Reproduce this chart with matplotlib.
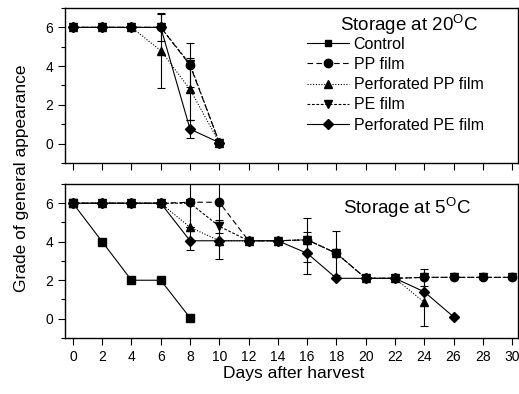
import matplotlib
matplotlib.use("Agg")
import matplotlib.pyplot as plt
from matplotlib.lines import Line2D
from matplotlib.ticker import MultipleLocator

plt.rcParams['font.family'] = ['Liberation Sans', 'DejaVu Sans']

# storage at 20 C
days_20 = [0, 2, 4, 6, 8, 10]
pp_20 = [6, 6, 6, 6, 4.05, 0.05]
pp_20_err = [0, 0, 0, 0, 1.15, 0]
perf_pp_20 = [6, 6, 6, 4.8, 2.8, 0.05]
perf_pp_20_err = [0, 0, 0, 1.95, 1.6, 0]
pe_20 = [6, 6, 6, 6, 4.1, 0.05]
pe_20_err = [0, 0, 0, 0.7, 0, 0]
perf_pe_20 = [6, 6, 6, 6, 0.75, 0.05]
perf_pe_20_err = [0, 0, 0, 0, 0.45, 0]

# storage at 5 C
days_ctrl = [0, 2, 4, 6, 8]
control_5 = [6, 4, 2, 2, 0.05]
days_5 = [0, 2, 4, 6, 8, 10, 12, 14, 16, 18, 20, 22, 24, 26, 28, 30]
pp_5 = [6, 6, 6, 6, 6.05, 6.05, 4.05, 4.05, 4.1, 3.4, 2.1, 2.1, 2.15, 2.15, 2.15, 2.15]
pp_5_err = [0, 0, 0, 0, 1.3, 1.05, 0, 0, 1.15, 1.15, 0, 0, 0.45, 0, 0, 0]
days_ppp = [0, 2, 4, 6, 8, 10, 12, 14, 16, 18, 20, 22, 24]
perf_pp_5 = [6, 6, 6, 6, 4.75, 4.05, 4.05, 4.05, 4.1, 3.4, 2.1, 2.1, 0.85]
perf_pp_5_err = [0, 0, 0, 0, 0, 0, 0, 0, 0, 0, 0, 0, 1.25]
pe_5 = [6, 6, 6, 6, 6, 4.8, 4.05, 4.05, 4.1, 3.4, 2.1, 2.1, 2.15, 2.15, 2.15, 2.15]
pe_5_err = [0, 0, 0, 0, 0, 0.35, 0, 0, 0, 0, 0, 0, 0, 0, 0, 0]
days_ppe = [0, 2, 4, 6, 8, 10, 12, 14, 16, 18, 20, 22, 24, 26]
perf_pe_5 = [6, 6, 6, 6, 4.05, 4.05, 4.05, 4.05, 3.4, 2.1, 2.1, 2.1, 1.4, 0.1]
perf_pe_5_err = [0, 0, 0, 0, 0.5, 0.95, 0, 0, 1.1, 0, 0, 0, 0, 0]

ls_ctrl = '-'
ls_pp = (0, (5, 3))
ls_ppp = (0, (1, 1.5))
ls_pe = (0, (2.5, 1.5))
ls_ppe = '-'

fig = plt.figure(figsize=(5.19, 3.94), dpi=100)
ax1 = fig.add_axes([0.125, 0.5863, 0.873, 0.3934])
ax2 = fig.add_axes([0.125, 0.1421, 0.873, 0.391])

kw = dict(color='black', lw=0.8, ms=6, elinewidth=0.8, capsize=3, capthick=0.8)

ax1.errorbar(days_20, pp_20, yerr=pp_20_err, marker='o', ls=ls_pp, **kw)
ax1.errorbar(days_20, perf_pp_20, yerr=perf_pp_20_err, marker='^', ls=ls_ppp, **kw)
ax1.errorbar(days_20, pe_20, yerr=pe_20_err, marker='v', ls=ls_pe, **kw)
ax1.errorbar(days_20, perf_pe_20, yerr=perf_pe_20_err, marker='D', ls=ls_ppe, **dict(kw, ms=5.5))

ax2.plot(days_ctrl, control_5, marker='s', ls=ls_ctrl, color='black', lw=0.8, ms=5.5)
ax2.errorbar(days_5, pp_5, yerr=pp_5_err, marker='o', ls=ls_pp, **kw)
ax2.errorbar(days_ppp, perf_pp_5, yerr=perf_pp_5_err, marker='^', ls=ls_ppp, **kw)
ax2.errorbar(days_5, pe_5, yerr=pe_5_err, marker='v', ls=ls_pe, **kw)
ax2.errorbar(days_ppe, perf_pe_5, yerr=perf_pe_5_err, marker='D', ls=ls_ppe, **dict(kw, ms=5.5))

for ax in (ax1, ax2):
    ax.set_xlim(-0.55, 30.4)
    ax.set_ylim(-1, 7)
    ax.set_xticks(range(0, 31, 2))
    ax.set_yticks([0, 2, 4, 6])
    ax.yaxis.set_minor_locator(MultipleLocator(1))
    ax.tick_params(axis='both', which='major', direction='out', length=5, width=0.8, labelsize=10)
    ax.tick_params(axis='y', which='minor', direction='out', length=3, width=0.8)
    for sp in ax.spines.values():
        sp.set_linewidth(1.0)
ax1.tick_params(axis='x', labelbottom=False)

ax1.text(0.912, 0.89, r'Storage at 20$^{\mathregular{O}}$C', transform=ax1.transAxes,
         ha='right', va='center', fontsize=13.5)
ax2.text(0.896, 0.844, r'Storage at 5$^{\mathregular{O}}$C', transform=ax2.transAxes,
         ha='right', va='center', fontsize=13.5)

handles = [
    Line2D([], [], color='black', lw=0.8, ls=ls_ctrl, marker='s', ms=5),
    Line2D([], [], color='black', lw=0.8, ls=ls_pp, marker='o', ms=6),
    Line2D([], [], color='black', lw=0.8, ls=ls_ppp, marker='^', ms=6),
    Line2D([], [], color='black', lw=0.8, ls=ls_pe, marker='v', ms=6),
    Line2D([], [], color='black', lw=0.8, ls=ls_ppe, marker='D', ms=5.5),
]
labels = ['Control', 'PP film', 'Perforated PP film', 'PE film', 'Perforated PE film']
ax1.legend(handles, labels, loc='upper left', bbox_to_anchor=(0.535, 0.815), frameon=False,
           fontsize=11.5, handlelength=2.6, handletextpad=0.3, labelspacing=0.33,
           borderaxespad=0, borderpad=0)

fig.text(0.042, 0.548, 'Grade of general appearance', rotation=90, ha='center', va='center', fontsize=12.5)
fig.text(0.566, 0.053, 'Days after harvest', ha='center', va='center', fontsize=12.5)

fig.savefig('out.png', dpi=100)
